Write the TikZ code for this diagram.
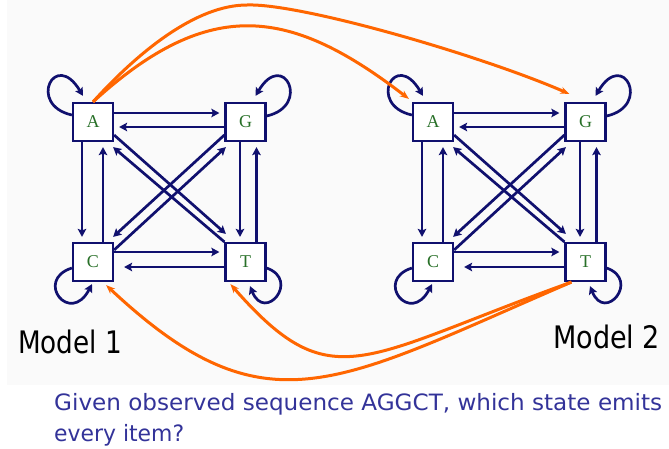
\documentclass[tikz,border=0pt]{standalone}
\usepackage{graphicx}
\usepackage{fontspec}
\newfontfamily\tah{DejaVu Sans}
\newfontfamily\tim{Liberation Serif}
\usetikzlibrary{arrows.meta}
\definecolor{navy}{RGB}{16,16,110}
\definecolor{grn}{RGB}{40,112,40}
\definecolor{org}{RGB}{255,102,0}
\definecolor{txtb}{RGB}{51,51,153}
\definecolor{bgc}{RGB}{250,250,250}
\newsavebox\tbox
\newcommand\fitto[2]{\sbox\tbox{#2}\pgfmathsetmacro\fitsc{#1/\the\wd\tbox}\scalebox{\fitsc}[1]{\usebox\tbox}}
\begin{document}
\begin{tikzpicture}[x=1pt,y=-1pt,
  st/.style={draw=navy,line width=2.2pt,fill=white,minimum width=40pt,minimum height=38pt,inner sep=0pt,text=grn,font=\tim\fontsize{18}{18}\selectfont},
  tr/.style={draw=navy,line width=2.7pt,-{Stealth[length=8pt,width=8.5pt,inset=1.5pt]}},
  sh/.style={shorten >=5pt},
  em/.style={draw=org,line width=3pt,-{Stealth[length=9pt,width=7pt]}},
  lbl/.style={anchor=base west,inner sep=0pt}]
\useasboundingbox (0,0) rectangle (669,448);
\fill[bgc] (7,0) rectangle (669,385);
\foreach \m/\dx in {1/0,2/340}{
  \node[st] (A\m) at (93+\dx,122) {A};
  \node[st] (G\m) at (245.5+\dx,122) {G};
  \node[st] (C\m) at (93+\dx,262) {C};
  \node[st] (T\m) at (245.5+\dx,262) {T};
  % horizontal
  \draw[tr,sh] ([yshift=9pt]A\m.east) -- ([yshift=9pt]G\m.west);
  \draw[tr,sh] ([yshift=-5pt]G\m.west) -- ([yshift=-5pt]A\m.east);
  \draw[tr,sh] ([yshift=10pt]C\m.east) -- ([yshift=10pt]T\m.west);
  \draw[tr,shorten >=10pt] ([yshift=-5pt]T\m.west) -- ([yshift=-5pt]C\m.east);
  % vertical
  \draw[tr,sh] ([xshift=-11pt]A\m.south) -- ([xshift=-11pt]C\m.north);
  \draw[tr,sh] ([xshift=10pt]C\m.north) -- ([xshift=10pt]A\m.south);
  \draw[tr,sh] ([xshift=-5.5pt]G\m.south) -- ([xshift=-5.5pt]T\m.north);
  \draw[tr,sh] ([xshift=11pt]T\m.north) -- ([xshift=11pt]G\m.south);
  % diagonals
  \draw[tr] ([yshift=-13pt]A\m.east) -- ([xshift=1.5pt,yshift=8pt]T\m.north west);
  \draw[tr] (T\m.north west) -- ([xshift=-1pt,yshift=-5pt]A\m.south east);
  \draw[tr] ([yshift=-13pt]G\m.west) -- ([xshift=-1pt,yshift=5pt]C\m.north east);
  \draw[tr] ([yshift=12pt]C\m.east) -- ([xshift=1.5pt,yshift=-5pt]G\m.south west);
  % self loops
  \draw[tr] ([yshift=7pt]A\m.west) .. controls +(-45,-10) and +(-28,-47) .. ([xshift=-10pt,yshift=6pt]A\m.north);
  \draw[tr] ([yshift=6pt]G\m.east) .. controls +(45,-10) and +(28,-47) .. ([xshift=10pt,yshift=6pt]G\m.north);
  \draw[tr] ([yshift=-6pt]C\m.west) .. controls +(-38,12) and +(-22,42) .. ([xshift=-1pt,yshift=-2pt]C\m.south);
  \draw[tr] ([yshift=-6pt]T\m.east) .. controls +(34,12) and +(15,37) .. ([xshift=4.5pt,yshift=-4pt]T\m.south);
}
% orange emission links
\draw[em] (A1.north) .. controls (140,50) and (197,5) .. (247,5) .. controls (300,3) and (480,55) .. ([xshift=5pt,yshift=8pt]G2.north west);
\draw[em] (A1.north) .. controls (211,-6) and (292,9) .. ([xshift=-3pt,yshift=3pt]A2.north west);
\draw[em] ([xshift=7pt]T2.south west) .. controls (335,384) and (266,435) .. ([xshift=-8pt,yshift=-3pt]C1.south east);
\draw[em] ([xshift=7pt]T2.south west) .. controls (360,358) and (332,400) .. ([xshift=6pt,yshift=-2pt]T1.south west);
% labels
\node[lbl] (m1) at (18,353.3) {\tah\fontsize{31}{31}\selectfont\fitto{104pt}{Model 1}};
\node[lbl] (m2) at (553,348.3) {\tah\fontsize{31}{31}\selectfont\fitto{107pt}{Model 2}};
\node[lbl,text=txtb] (q1) at (54,410.7) {\tah\fontsize{22.5}{22.5}\selectfont\fitto{608pt}{Given observed sequence AGGCT, which state emits}};
\node[lbl,text=txtb] (q2) at (54,441.7) {\tah\fontsize{22.5}{22.5}\selectfont\fitto{130pt}{every item?}};
\end{tikzpicture}
\end{document}
